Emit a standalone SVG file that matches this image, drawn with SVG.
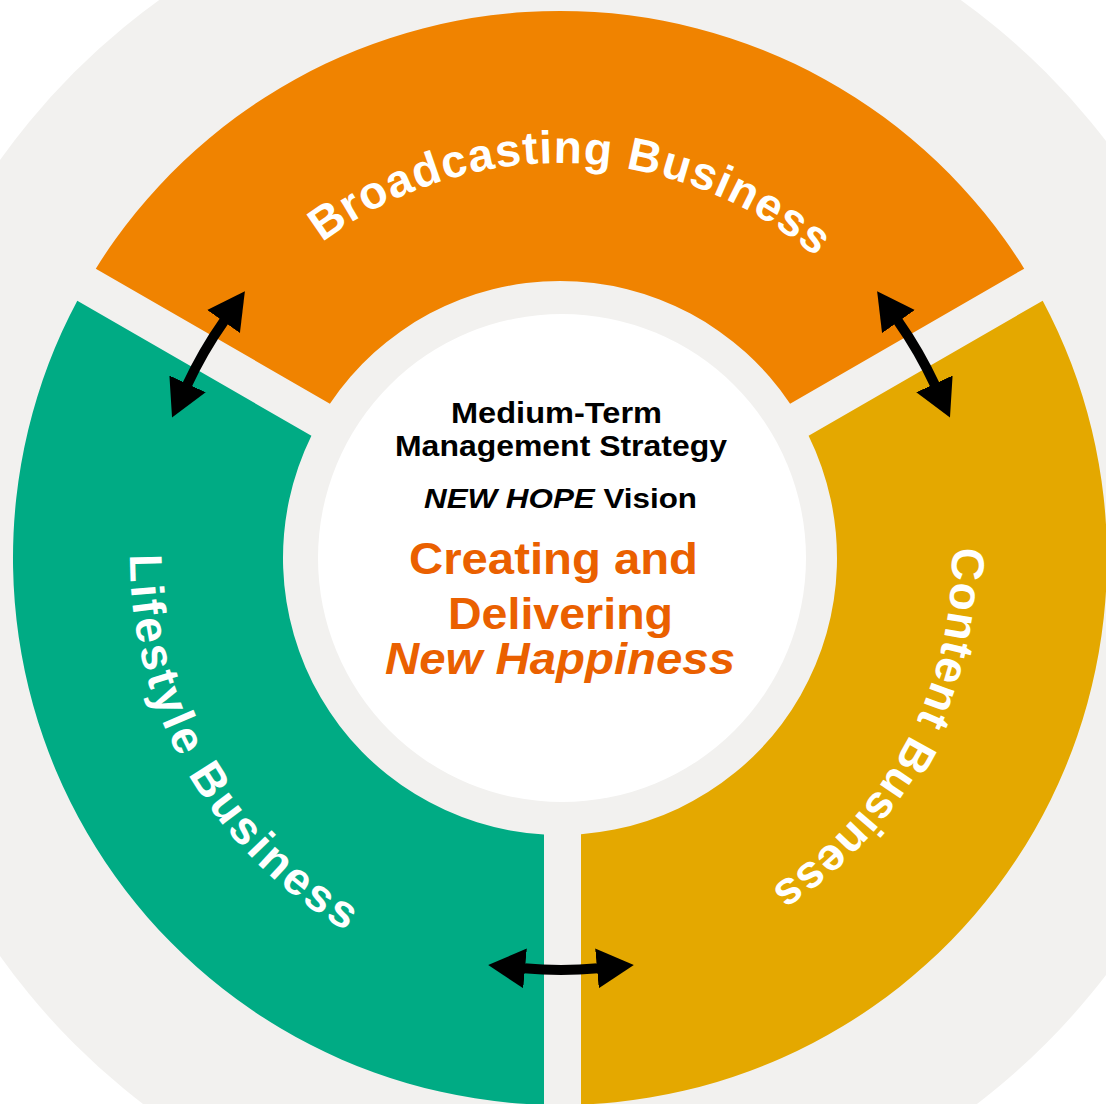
<svg xmlns="http://www.w3.org/2000/svg" xmlns:xlink="http://www.w3.org/1999/xlink" width="1106" height="1104" viewBox="0 0 1106 1104">
  <style>
    .sec-label { font-family: "Liberation Sans", Arial, sans-serif; font-weight: bold; font-size: 46px; fill: #ffffff; }
    .mid { font-family: "Liberation Sans", Arial, sans-serif; font-weight: bold; fill: #000000; }
    .vision { font-family: "Liberation Sans", Arial, sans-serif; font-weight: bold; fill: #ea6000; font-size: 44px; }
    .conn { fill: none; stroke: #000000; stroke-width: 10; marker-start: url(#ah); marker-end: url(#ah); }
  </style>
  <defs>
    <marker id="ah" markerUnits="userSpaceOnUse" markerWidth="40" markerHeight="42" viewBox="0 -21 40 42" refX="1" refY="0" orient="auto-start-reverse">
      <path d="M0,-20 L37,0 L0,20 Z" fill="#000000"/>
    </marker>
    <path id="arc-broad" d="M 165 558 A 395 395 0 0 1 955 558"/>
    <path id="arc-life" d="M 560 128 A 430 430 0 0 0 560 988"/>
    <path id="arc-content" d="M 560 166 A 392 392 0 0 1 560 950"/>
  </defs>

  <rect x="0" y="0" width="1106" height="1104" fill="#ffffff"/>
  <circle cx="560" cy="558" r="687" fill="#f2f1ef"/>

  <g id="node-broadcasting">
    <path d="M 95.8 268.63 A 547 547 0 0 1 1024.2 268.63 L 790.1 403.79 A 277 277 0 0 0 329.9 403.79 Z" fill="#f08300"/>
    <text class="sec-label" letter-spacing="1.1"><textPath xlink:href="#arc-broad" href="#arc-broad" startOffset="365">Broadcasting Business</textPath></text>
  </g>

  <g id="node-lifestyle">
    <path d="M 311.4 435.83 L 77.3 300.67 A 547 547 0 0 0 544 1104.77 L 544 834.54 A 277 277 0 0 1 311.4 435.83 Z" fill="#00ab84"/>
    <text class="sec-label" letter-spacing="3"><textPath xlink:href="#arc-life" href="#arc-life" startOffset="672">Lifestyle Business</textPath></text>
  </g>

  <g id="node-content">
    <path d="M 808.6 435.83 L 1042.7 300.67 A 547 547 0 0 1 581 1104.6 L 581 834.2 A 277 277 0 0 0 808.6 435.83 Z" fill="#e4a800"/>
    <text class="sec-label" letter-spacing="0.8"><textPath xlink:href="#arc-content" href="#arc-content" startOffset="605">Content Business</textPath></text>
  </g>

  <g id="node-center">
    <circle cx="562" cy="558" r="244" fill="#ffffff"/>
    <text class="mid" x="451" y="422.5" font-size="29" textLength="211" lengthAdjust="spacingAndGlyphs">Medium-Term</text>
    <text class="mid" x="395" y="456" font-size="29" textLength="332" lengthAdjust="spacingAndGlyphs">Management Strategy</text>
    <text class="mid" x="424" y="507.5" font-size="28.5" textLength="273" lengthAdjust="spacingAndGlyphs"><tspan font-style="italic">NEW HOPE</tspan> Vision</text>
    <text class="vision" x="409" y="574" textLength="289" lengthAdjust="spacingAndGlyphs">Creating and</text>
    <text class="vision" x="448" y="628.5" textLength="225" lengthAdjust="spacingAndGlyphs">Delivering</text>
    <text class="vision" x="385" y="673.5" font-style="italic" textLength="350" lengthAdjust="spacingAndGlyphs">New Happiness</text>
  </g>

  <g id="connectors">
    <path class="conn" d="M 187.15 384.88 A 412 412 0 0 1 224.15 320.77"/>
    <path class="conn" d="M 897.85 320.77 A 412 412 0 0 1 934.85 384.88"/>
    <path class="conn" d="M 524.02 968.34 A 412 412 0 0 0 597.98 968.34"/>
  </g>
</svg>
